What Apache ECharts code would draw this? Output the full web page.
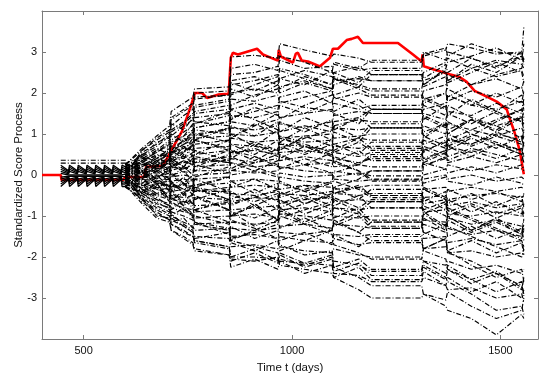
<!DOCTYPE html>
<html><head><meta charset="utf-8">
<script src="https://cdn.jsdelivr.net/npm/echarts@6/dist/echarts.min.js"></script>
<style>html,body{margin:0;padding:0;background:#fff}#c{width:539px;height:379px}</style>
</head><body><div id="c"></div>
<script>
// ---- axis ticks ----
const xTicks = [500, 1000, 1500];
const yTicks = [-3, -2, -1, 0, 1, 2, 3];

// ---- highlighted (red) path ----
const redT = [400,445,447,595,600,645,650,690,714,736,755,767,784,796,822,848,853,858,870,916,930,966,968,973,1002,1009,1014,1023,1038,1067,1091,1098,1110,1131,1143,1158,1170,1254,1290,1311,1313,1316,1338,1378,1402,1419,1438,1467,1491,1515,1522,1534,1546,1556];
const redY = [0,0,-0.12,-0.12,-0.05,-0.05,0.2,0.22,0.67,1.07,1.62,2.0,2.0,1.88,1.96,1.98,2.86,2.98,2.94,3.08,2.94,2.79,3.05,2.89,2.74,2.96,2.98,2.79,2.77,2.65,2.86,3.08,3.08,3.29,3.32,3.37,3.22,3.22,2.94,2.77,2.94,2.65,2.58,2.46,2.39,2.27,2.05,1.91,1.79,1.6,1.38,1.03,0.6,0.02];

// ---- early narrow band (chevron zone) ----
const tBand = [445,464,466,485,487,506,508,527,529,548,550,569,571,590,592,600];
const band1 = [0.24,0.1,0.24,0.1,0.24,0.1,0.24,0.1,0.24,0.1,0.24,0.1,0.24,0.1,0.24,0.2];
const band2 = [0.19,0.08,0.19,0.08,0.19,0.08,0.19,0.08,0.19,0.08,0.19,0.08,0.19,0.08,0.19,0.15];
const band3 = [0.14,0.05,0.14,0.05,0.14,0.05,0.14,0.05,0.14,0.05,0.14,0.05,0.14,0.05,0.14,0.1];
const band4 = [0.09,0.03,0.09,0.03,0.09,0.03,0.09,0.03,0.09,0.03,0.09,0.03,0.09,0.03,0.09,0.05];
const band5 = [0.04,0.0,0.04,0.0,0.04,0.0,0.04,0.0,0.04,0.0,0.04,0.0,0.04,0.0,0.04,0.02];
const band6 = [-0.05,-0.03,-0.05,-0.03,-0.05,-0.03,-0.05,-0.03,-0.05,-0.03,-0.05,-0.03,-0.05,-0.03,-0.05,-0.05];
const band7 = [-0.1,-0.05,-0.1,-0.05,-0.1,-0.05,-0.1,-0.05,-0.1,-0.05,-0.1,-0.05,-0.1,-0.05,-0.1,-0.12];
const band8 = [-0.16,-0.07,-0.16,-0.07,-0.16,-0.07,-0.16,-0.07,-0.16,-0.07,-0.16,-0.07,-0.16,-0.07,-0.16,-0.18];
const band9 = [-0.22,-0.09,-0.22,-0.09,-0.22,-0.09,-0.22,-0.09,-0.22,-0.09,-0.22,-0.09,-0.22,-0.09,-0.22,-0.22];
const band10 = [-0.28,-0.11,-0.28,-0.11,-0.28,-0.11,-0.28,-0.11,-0.28,-0.11,-0.28,-0.11,-0.28,-0.11,-0.28,-0.28];
const bandFlatT = [445, 605];
const bandFlat1 = [0.36, 0.36];
const bandFlat2 = [0.29, 0.29];

// ---- main simulated paths (values at shared times) ----
const tMain = [600,640,675,706,710,740,762,766,849,853,910,966,970,1030,1096,1100,1160,1190,1311,1315,1369,1373,1430,1490,1551,1556];
const paths = [
 [0.25,0.6,0.85,1.05,1.4, 1.6,1.75,2.0,2.05,2.88, 2.92,2.85,3.2,3.05,2.9, 2.95,2.85,2.75,2.75,2.9, 3.05,3.2,3.1,2.95,3.0, 3.6],
 [0.2,0.5,0.7,0.95,1.2, 1.45,1.6,1.9,1.95,2.6, 2.7,2.55,2.8,2.6,2.65, 2.7,2.55,2.6,2.6,2.95, 3.1,2.9,3.2,3.0,2.95, 3.05],
 [0.28,0.45,0.8,0.9,1.1, 1.3,1.5,1.7,1.85,2.2, 2.3,2.45,2.35,2.55,2.4, 2.3,2.35,2.3,2.3,2.5, 2.75,2.85,2.6,2.8,2.7, 2.6],
 [0.15,0.35,0.55,0.8,0.95, 1.2,1.35,1.55,1.7,2.0, 2.1,2.0,2.15,2.3,2.1, 2.35,2.2,2.1,2.1,2.3, 2.5,2.3,2.6,2.4,2.55, 2.4],
 [0.22,0.3,0.6,0.7,0.85, 1.05,1.2,1.4,1.5,1.85, 1.8,1.95,1.75,1.9,2.05, 1.85,2.0,1.9,1.9,2.05, 2.2,2.45,2.2,2.35,2.1, 2.3],
 [0.1,0.4,0.45,0.6,0.75, 0.95,1.1,1.3,1.2,1.6, 1.75,1.6,1.8,1.65,1.55, 1.75,1.6,1.7,1.7,1.85, 2.0,1.8,2.05,1.9,2.15, 1.95],
 [0.18,0.25,0.4,0.55,0.7, 0.8,1.0,1.15,1.3,1.45, 1.4,1.55,1.4,1.5,1.6, 1.45,1.55,1.5,1.5,1.6, 1.75,1.95,1.7,1.6,1.8, 1.6],
 [0.05,0.3,0.5,0.45,0.6, 0.75,0.85,1.0,1.1,1.3, 1.2,1.35,1.25,1.15,1.3, 1.2,1.35,1.3,1.3,1.5, 1.35,1.55,1.45,1.75,1.5, 1.7],
 [0.12,0.2,0.35,0.5,0.55, 0.65,0.8,0.9,0.95,1.15, 1.1,1.2,1.05,1.2,1.05, 1.15,1.1,1.15,1.15,1.05, 1.25,1.1,1.35,1.2,1.4, 1.25],
 [-0.05,0.25,0.3,0.4,0.5, 0.55,0.7,0.75,0.85,1.0, 0.95,1.05,0.9,0.95,1.0, 0.9,0.95,1.0,1.0,1.2, 1.0,1.25,1.1,0.95,1.15, 1.0],
 [0.2,0.15,0.25,0.35,0.45, 0.4,0.55,0.65,0.7,0.9, 0.8,0.85,0.95,0.8,0.85, 0.75,0.9,0.85,0.85,0.75, 0.95,0.85,0.75,1.0,0.85, 1.05],
 [0.0,0.1,0.2,0.3,0.35, 0.45,0.4,0.5,0.6,0.75, 0.7,0.6,0.75,0.7,0.6, 0.7,0.65,0.7,0.7,0.6, 0.8,0.7,0.55,0.75,0.6, 0.8],
 [0.1,0.05,0.15,0.2,0.25, 0.3,0.35,0.3,0.45,0.55, 0.6,0.5,0.55,0.6,0.5, 0.55,0.45,0.55,0.55,0.4, 0.6,0.45,0.65,0.5,0.35, 0.55],
 [-0.1,0.08,0.1,0.15,0.2, 0.15,0.25,0.3,0.35,0.4, 0.3,0.4,0.35,0.45,0.35, 0.4,0.3,0.4,0.4,0.25, 0.4,0.3,0.45,0.3,0.5, 0.3],
 [0.15,0.0,0.05,0.1,0.12, 0.2,0.1,0.2,0.25,0.3, 0.2,0.25,0.15,0.25,0.3, 0.2,0.25,0.2,0.2,0.3, 0.15,0.25,0.1,0.25,0.15, 0.2],
 [-0.02,0.04,-0.05,0.05,0.0, 0.08,0.05,0.1,0.12,0.15, 0.05,0.1,0.2,0.1,0.05, 0.1,0.0,0.1,0.1,0.0, 0.15,0.05,0.2,0.05,0.25, 0.1],
 [0.07,-0.05,0.0,-0.05,-0.02, 0.0,-0.05,0.0,0.05,0.0, 0.1,-0.05,0.05,-0.05,0.0, -0.05,0.05,-0.02,-0.02,-0.1, 0.0,-0.1,0.0,-0.15,-0.05, -0.1],
 [-0.15,-0.1,-0.15,-0.1,-0.15, -0.1,-0.15,-0.1,-0.05,-0.15, -0.1,-0.15,-0.05,-0.15,-0.2, -0.1,-0.15,-0.12,-0.12,-0.2, -0.05,-0.15,-0.25,-0.05,-0.2, -0.25],
 [0.02,-0.15,-0.2,-0.25,-0.3, -0.2,-0.3,-0.25,-0.2,-0.3, -0.25,-0.3,-0.35,-0.25,-0.3, -0.35,-0.3,-0.25,-0.25,-0.35, -0.3,-0.4,-0.3,-0.4,-0.3, -0.35],
 [-0.2,-0.2,-0.3,-0.35,-0.4, -0.35,-0.45,-0.4,-0.4,-0.45, -0.5,-0.4,-0.45,-0.5,-0.4, -0.45,-0.5,-0.45,-0.45,-0.55, -0.5,-0.6,-0.5,-0.45,-0.55, -0.5],
 [0.08,-0.25,-0.35,-0.45,-0.5, -0.55,-0.5,-0.55,-0.6,-0.65, -0.55,-0.6,-0.7,-0.6,-0.55, -0.65,-0.6,-0.65,-0.65,-0.7, -0.6,-0.75,-0.65,-0.8,-0.7, -0.75],
 [-0.25,-0.3,-0.45,-0.55,-0.6, -0.65,-0.7,-0.75,-0.7,-0.85, -0.8,-0.75,-0.85,-0.8,-0.9, -0.8,-0.85,-0.8,-0.8,-0.9, -0.85,-0.95,-1.0,-0.9,-1.0, -0.9],
 [-0.08,-0.35,-0.5,-0.6,-0.7, -0.8,-0.85,-0.9,-0.85,-1.0, -0.95,-1.05,-0.95,-1.0,-1.1, -1.0,-1.05,-1.0,-1.0,-1.1, -1.15,-1.05,-1.2,-1.1,-1.25, -1.1],
 [-0.3,-0.4,-0.6,-0.7,-0.8, -0.9,-0.95,-1.05,-1.0,-1.15, -1.2,-1.15,-1.25,-1.2,-1.3, -1.2,-1.25,-1.3,-1.3,-1.2, -1.4,-1.3,-1.45,-1.35,-1.5, -1.35],
 [0.0,-0.45,-0.7,-0.8,-0.9, -1.0,-1.1,-1.2,-1.15,-1.3, -1.35,-1.3,-1.4,-1.45,-1.35, -1.45,-1.5,-1.45,-1.45,-1.55, -1.5,-1.65,-1.55,-1.7,-1.6, -1.75],
 [-0.18,-0.5,-0.75,-0.9,-1.0, -1.15,-1.25,-1.35,-1.3,-1.5, -1.45,-1.55,-1.5,-1.6,-1.65, -1.55,-1.7,-1.65,-1.65,-1.8, -1.75,-1.9,-1.85,-2.0,-1.9, -1.95],
 [-0.28,-0.6,-0.85,-1.0,-1.1, -1.25,-1.4,-1.5,-1.55,-1.75, -1.7,-1.8,-1.75,-1.85,-1.9, -1.8,-1.95,-2.0,-2.0,-2.1, -2.2,-2.1,-2.3,-2.2,-2.4, -2.3],
 [-0.1,-0.65,-0.95,-1.1,-1.2, -1.35,-1.5,-1.6,-1.75,-2.0, -2.0,-2.05,-2.1,-2.15,-2.2, -2.4,-2.45,-2.6,-2.6,-2.5, -2.7,-2.8,-2.75,-3.0,-2.9, -3.1],
 [-0.3,-0.55,-1.0,-1.05,-1.2, -1.4,-1.5,-1.65,-1.8,-2.05, -2.1,-2.0,-2.2,-2.3,-2.4, -2.5,-2.8,-3.0,-3.0,-2.9, -3.2,-3.3,-3.5,-3.9,-3.4, -3.5],
 [0.05,0.3,0.2,0.45,0.8, 0.95,1.25,1.5,1.6,2.3, 2.4,2.2,2.6,2.45,2.2, 2.5,2.65,2.45,2.45,2.2, 2.6,2.75,2.9,3.1,2.8, 3.2],
 [-0.05,0.2,0.4,0.65,0.7, 0.55,0.9,1.1,1.0,1.4, 1.55,1.7,1.9,2.05,1.75, 1.95,2.15,2.05,2.05,1.85, 1.6,1.9,2.2,2.45,2.6, 2.85],
 [0.18,0.0,-0.2,-0.15,-0.35, -0.2,-0.4,-0.3,-0.05,0.1, 0.3,0.5,0.65,0.9,1.1, 1.3,1.4,1.6,1.6,1.4, 1.15,1.3,1.0,0.8,0.6, 0.45],
 [-0.22,-0.1,0.1,0.3,0.5, 0.7,0.6,0.85,0.65,0.45, 0.2,0.0,-0.2,-0.4,-0.6, -0.8,-0.95,-1.1,-1.1,-1.4, -1.6,-1.9,-2.1,-2.4,-2.7, -2.9],
 [0.25,0.1,0.3,0.55,0.4, 0.2,0.4,0.2,0.5,0.9, 1.2,1.5,1.35,1.7,1.95, 2.2,2.4,2.3,2.3,2.15, 2.4,2.1,1.8,1.5,1.3, 1.1],
 [-0.12,-0.25,-0.5,-0.4,-0.6, -0.45,-0.7,-0.55,-0.85,-1.1, -1.3,-1.55,-1.7,-1.95,-1.85, -2.1,-2.2,-2.35,-2.35,-2.2, -2.5,-2.6,-2.9,-3.3,-3.2, -3.4],
 [0.1,-0.2,0.0,-0.3,-0.15, -0.45,-0.25,-0.05,0.2,0.55, 0.8,0.6,0.9,0.75,0.55, 0.35,0.1,-0.15,-0.15,0.2, 0.45,0.7,0.95,1.3,1.6, 1.4],
 [-0.05,0.15,-0.1,0.2,0.35, 0.1,-0.15,-0.35,-0.6,-0.9, -1.05,-0.8,-1.0,-1.2,-1.45, -1.7,-1.9,-2.05,-2.05,-1.8, -1.55,-1.85,-2.2,-2.5,-2.3, -2.6],
 [0.2,0.45,0.65,0.5,0.3, 0.55,0.75,0.95,1.15,1.7, 1.95,2.1,2.35,2.2,2.55, 2.35,2.1,1.95,1.95,1.7, 1.45,1.7,1.4,1.2,0.9, 0.7],
 [-0.28,-0.45,-0.3,-0.65,-0.85, -0.6,-0.8,-1.0,-1.2,-1.55, -1.4,-1.2,-1.05,-0.85,-0.65, -0.45,-0.3,-0.5,-0.5,-0.75, -1.0,-1.25,-1.5,-1.75,-2.0, -1.8],
 [0.0,0.35,0.15,-0.1,0.15, 0.35,0.25,0.45,0.3,0.6, 0.45,0.25,0.45,0.25,0.05, -0.15,-0.35,-0.55,-0.55,-0.35, -0.6,-0.8,-1.05,-1.3,-1.55, -1.3],
 [-0.15,-0.05,0.25,0.1,0.0, -0.25,-0.1,-0.3,-0.45,-0.7, -0.55,-0.35,-0.55,-0.35,-0.15, 0.05,0.25,0.45,0.45,0.7, 0.5,0.75,1.0,0.75,0.5, 0.3],
 [0.12,-0.08,-0.3,-0.5,-0.65, -0.85,-1.0,-1.2,-1.35,-1.65, -1.85,-1.6,-1.85,-1.6,-1.35, -1.15,-1.4,-1.6,-1.6,-1.85, -2.05,-2.3,-2.55,-2.85,-2.6, -2.95],
 [-0.2,0.05,0.2,0.4,0.6, 0.85,1.05,1.25,1.45,1.95, 2.2,2.4,2.55,2.35,2.1, 1.9,1.7,1.5,1.5,1.75, 2.0,2.25,2.5,2.75,2.5, 2.25],
 [0.08,-0.35,-0.6,-0.75,-0.95, -1.2,-1.35,-1.55,-1.4,-1.6, -1.75,-1.9,-2.05,-2.2,-2.0, -2.25,-2.5,-2.7,-2.7,-2.9, -3.05,-2.85,-3.2,-3.5,-3.3, -3.0],
 [0.1,0.5,0.3,0.7,0.5, 0.9,0.7,1.0,0.8,1.2, 0.95,1.3,1.05,1.4,1.15, 1.5,1.25,1.6,1.6,1.35, 1.7,1.45,1.85,1.55,1.95, 1.7],
 [-0.1,-0.4,-0.2,-0.6,-0.4, -0.75,-0.55,-0.85,-0.65,-1.0, -0.75,-1.1,-0.85,-1.2,-0.95, -1.25,-1.0,-1.3,-1.3,-1.05, -1.35,-1.1,-1.4,-1.15,-1.45, -1.2],
 [0.2,-0.1,0.25,0.0,0.3, 0.05,0.35,0.1,0.4,0.15, 0.45,0.2,0.5,0.25,0.55, 0.3,0.6,0.35,0.35,0.65, 0.4,0.7,0.45,0.75,0.5, 0.8],
 [-0.2,0.1,-0.25,0.0,-0.3, -0.05,-0.35,-0.1,-0.4,-0.15, -0.45,-0.2,-0.5,-0.25,-0.55, -0.3,-0.6,-0.35,-0.35,-0.65, -0.4,-0.7,-0.45,-0.75,-0.5, -0.8],
 [0.0,0.55,0.75,1.0,1.25, 1.1,1.4,1.25,1.55,1.35, 1.65,1.45,1.7,1.5,1.8, 1.55,1.85,1.6,1.6,1.9, 1.65,1.95,1.7,2.0,1.75, 2.05],
 [-0.05,-0.55,-0.8,-0.95,-1.15, -1.05,-1.3,-1.15,-1.45,-1.25, -1.55,-1.35,-1.6,-1.4,-1.7, -1.45,-1.75,-1.5,-1.5,-1.8, -1.55,-1.85,-1.6,-1.9,-1.65, -1.95],
 [0.15,0.3,0.05,0.4,0.15, 0.5,0.25,0.6,0.35,0.75, 0.5,0.85,0.6,0.95,0.7, 1.05,0.8,1.15,1.15,0.9, 1.25,1.0,1.35,1.1,1.45, 1.2],
 [-0.15,-0.3,-0.05,-0.4,-0.15, -0.5,-0.25,-0.6,-0.35,-0.75, -0.5,-0.85,-0.6,-0.95,-0.7, -1.05,-0.8,-1.15,-1.15,-0.9, -1.25,-1.0,-1.35,-1.1,-1.45, -1.2],
 [0.05,0.2,0.45,0.25,0.6, 0.4,0.75,0.5,0.85,0.6, 0.35,0.65,0.4,0.7,0.45, 0.75,0.5,0.8,0.8,0.55, 0.85,0.6,0.9,0.65,0.95, 0.7],
 [-0.05,-0.2,-0.45,-0.25,-0.6, -0.4,-0.75,-0.5,-0.85,-0.6, -0.35,-0.65,-0.4,-0.7,-0.45, -0.75,-0.5,-0.8,-0.8,-0.55, -0.85,-0.6,-0.9,-0.65,-0.95, -0.7],
 [0.25,0.65,0.95,1.2,1.55, 1.75,1.9,2.1,2.15,2.45, 2.5,2.65,2.9,2.75,2.5, 2.75,2.6,2.8,2.8,3.0, 2.8,3.0,2.85,2.65,2.9, 2.7],
 [-0.25,-0.7,-1.05,-1.15,-1.35, -1.5,-1.65,-1.8,-1.95,-2.1, -1.9,-2.15,-1.95,-2.25,-2.05, -2.35,-2.15,-2.45,-2.45,-2.25, -2.55,-2.3,-2.65,-2.4,-2.8, -2.5],
 [0.0,0.1,-0.1,0.15,-0.05, 0.2,0.0,0.25,0.05,0.3, 0.1,0.35,0.15,0.4,0.2, 0.45,0.25,0.5,0.5,0.3, 0.55,0.35,0.6,0.4,0.65, 0.45],
 [0.0,-0.1,0.1,-0.15,0.05, -0.2,0.0,-0.25,-0.05,-0.3, -0.1,-0.35,-0.15,-0.4,-0.2, -0.45,-0.25,-0.5,-0.5,-0.3, -0.55,-0.35,-0.6,-0.4,-0.65, -0.45],
 [0.2,0.4,0.6,0.85,1.05, 1.25,1.45,1.65,1.8,2.1, 1.9,2.2,2.0,2.25,2.05, 2.4,2.15,2.45,2.45,2.2, 2.55,2.3,2.7,2.5,2.9, 2.75],
 [-0.2,-0.45,-0.65,-0.85,-1.05, -1.25,-1.4,-1.6,-1.75,-2.0, -1.8,-2.1,-1.9,-2.15,-1.95, -2.25,-2.05,-2.3,-2.3,-2.1, -2.4,-2.2,-2.55,-2.35,-2.75, -2.55],
 [0.1,0.25,0.15,0.3,0.2, 0.35,0.25,0.4,0.3,0.5, 0.65,0.45,0.7,0.5,0.75, 0.55,0.8,0.6,0.6,0.85, 0.65,0.9,0.7,0.95,0.75, 0.95],
 [-0.1,-0.25,-0.15,-0.3,-0.2, -0.35,-0.25,-0.4,-0.3,-0.5, -0.65,-0.45,-0.7,-0.5,-0.75, -0.55,-0.8,-0.6,-0.6,-0.85, -0.65,-0.9,-0.7,-0.95,-0.75, -0.95],
 [0.05,0.35,0.55,0.75,1.0, 0.8,1.05,0.85,1.15,0.9, 1.25,1.0,1.3,1.05,1.35, 1.1,1.4,1.15,1.15,1.45, 1.2,1.5,1.25,1.55,1.3, 1.6],
 [-0.05,-0.35,-0.55,-0.75,-1.0, -0.8,-1.05,-0.85,-1.15,-0.9, -1.25,-1.0,-1.3,-1.05,-1.35, -1.1,-1.4,-1.15,-1.15,-1.45, -1.2,-1.5,-1.25,-1.55,-1.3, -1.6],
 [0.28,0.05,-0.15,-0.35,-0.55, -0.75,-0.95,-1.15,-1.3,-1.6, -1.35,-1.1,-0.9,-0.7,-0.5, -0.3,-0.1,0.1,0.1,0.35, 0.6,0.85,1.1,1.35,1.6, 1.85],
 [-0.28,-0.05,0.15,0.35,0.55, 0.75,0.95,1.15,1.3,1.6, 1.35,1.1,0.9,0.7,0.5, 0.3,0.1,-0.1,-0.1,-0.35, -0.6,-0.85,-1.1,-1.35,-1.6, -1.85],
 [0.12,0.45,0.2,0.6,0.35, 0.7,0.45,0.85,0.6,1.0, 0.7,1.1,0.8,1.15,0.85, 1.2,0.9,1.25,1.25,0.95, 1.3,1.0,1.35,1.05,1.4, 1.1],
 [-0.12,-0.45,-0.2,-0.6,-0.35, -0.7,-0.45,-0.85,-0.6,-1.0, -0.7,-1.1,-0.8,-1.15,-0.85, -1.2,-0.9,-1.25,-1.25,-0.95, -1.3,-1.0,-1.35,-1.05,-1.4, -1.1],
 [0.0,0.6,0.9,1.1,1.35, 1.55,1.7,1.85,1.95,2.25, 2.05,2.3,2.1,2.4,2.2, 2.5,2.25,2.55,2.55,2.35, 2.7,2.5,2.85,2.6,3.0, 2.8],
 [0.0,-0.6,-0.9,-1.1,-1.35, -1.55,-1.7,-1.85,-1.95,-2.25, -2.05,-2.3,-2.1,-2.4,-2.2, -2.5,-2.25,-2.55,-2.55,-2.35, -2.7,-2.5,-2.85,-2.6,-3.0, -2.8],
 [0.16,0.1,0.35,0.1,0.4, 0.2,0.5,0.3,0.6,0.4, 0.75,0.5,0.8,0.55,0.85, 0.6,0.9,0.65,0.65,0.95, 0.7,1.0,0.75,1.05,0.8, 1.1],
 [-0.16,-0.1,-0.35,-0.1,-0.4, -0.2,-0.5,-0.3,-0.6,-0.4, -0.75,-0.5,-0.8,-0.55,-0.85, -0.6,-0.9,-0.65,-0.65,-0.95, -0.7,-1.0,-0.75,-1.05,-0.8, -1.1]
];

// ---- build ----
function pts(ts, ys) { const out = []; for (let i = 0; i < Math.min(ts.length, ys.length); i++) out.push([ts[i], ys[i]]); return out; }
const blackStyle = { color: '#000', width: 1.15, type: [5, 2, 1, 2] };
const series = [];
series.push({ type: 'line', data: pts(redT, redY), showSymbol: false, silent: true, z: 2,
  lineStyle: { color: '#ff0000', width: 2.6 } });
const bands = [band1, band2, band3, band4, band5, band6, band7, band8, band9, band10];
bands.forEach(b => series.push({ type: 'line', data: pts(tBand, b), showSymbol: false, silent: true, z: 3,
  lineStyle: { color: '#000', width: 1.3, type: 'solid' } }));
[bandFlat1, bandFlat2].forEach(b => series.push({ type: 'line', data: pts(bandFlatT, b), showSymbol: false, silent: true, z: 3,
  lineStyle: blackStyle }));
paths.forEach(p => series.push({ type: 'line', data: pts(tMain, p), showSymbol: false, silent: true, z: 3,
  lineStyle: blackStyle }));

const axisCol = '#7a7a7a';
const font = 'Liberation Sans, Arial, sans-serif';
const plain = v => String(v);
const chart = echarts.init(document.getElementById('c'), null, { renderer: 'canvas' });
chart.setOption({
  animation: false,
  backgroundColor: '#fff',
  grid: { left: 42, right: 1, top: 11, bottom: 34, containLabel: false },
  xAxis: [
    { type: 'value', min: 400, max: 1590, interval: 100, position: 'bottom',
      name: 'Time t (days)', nameLocation: 'middle', nameGap: 23, nameMoveOverlap: false,
      nameTextStyle: { color: '#111', fontSize: 11.5, fontFamily: font },
      axisLine: { show: true, onZero: false, lineStyle: { color: axisCol } },
      axisTick: { show: true, inside: true, length: 4, customValues: xTicks, lineStyle: { color: axisCol } },
      axisLabel: { customValues: xTicks, formatter: plain, color: '#111', fontSize: 11, fontFamily: font, margin: 6 },
      splitLine: { show: false } },
    { type: 'value', min: 400, max: 1590, interval: 100, position: 'top',
      axisLine: { show: true, onZero: false, lineStyle: { color: axisCol } },
      axisTick: { show: true, inside: true, length: 4, customValues: xTicks, lineStyle: { color: axisCol } },
      axisLabel: { show: false }, splitLine: { show: false } }
  ],
  yAxis: [
    { type: 'value', min: -4, max: 4, interval: 1, position: 'left',
      name: 'Standardized Score Process', nameLocation: 'middle', nameGap: 17, nameMoveOverlap: false,
      nameTextStyle: { color: '#111', fontSize: 11.5, fontFamily: font },
      axisLine: { show: true, onZero: false, lineStyle: { color: axisCol } },
      axisTick: { show: true, inside: true, length: 4, customValues: yTicks, lineStyle: { color: axisCol } },
      axisLabel: { customValues: yTicks, formatter: plain, color: '#111', fontSize: 11, fontFamily: font, margin: 5 },
      splitLine: { show: false } },
    { type: 'value', min: -4, max: 4, interval: 1, position: 'right',
      axisLine: { show: true, onZero: false, lineStyle: { color: axisCol } },
      axisTick: { show: true, inside: true, length: 4, customValues: yTicks, lineStyle: { color: axisCol } },
      axisLabel: { show: false }, splitLine: { show: false } }
  ],
  series: series
});
</script></body></html>
